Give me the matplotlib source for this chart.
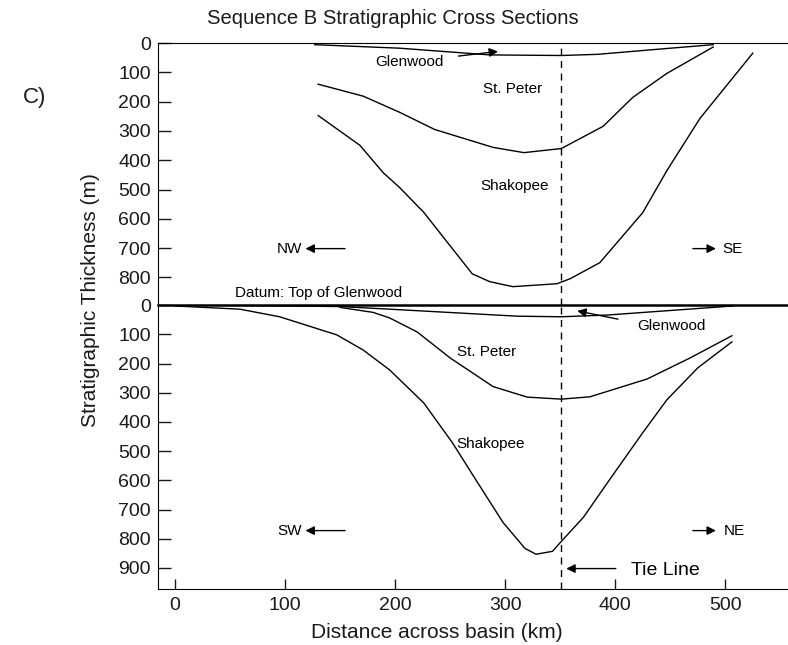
import matplotlib
matplotlib.use('Agg')
import matplotlib.pyplot as plt

plt.rcParams['font.family'] = ['Liberation Sans', 'DejaVu Sans']

# upper section (NW - SE), thickness below top of Glenwood (m)
nw_glen_x = [127, 204, 286, 351, 384, 447, 489]
nw_glen_y = [5, 17, 40, 42, 38, 18, 5]
nw_stp_x = [130, 171, 204, 236, 289, 317, 351, 389, 416, 447, 468, 489]
nw_stp_y = [140, 181, 236, 295, 356, 374, 360, 284, 185, 103, 58, 13]
nw_shak_x = [130, 168, 189, 204, 226, 270, 286, 307, 347, 359, 386, 425, 447, 477, 525]
nw_shak_y = [247, 349, 442, 493, 578, 788, 815, 832, 822, 805, 750, 579, 435, 257, 34]

# lower section (SW - NE)
sw_glen_x = [20, 150, 195, 311, 351, 393, 507]
sw_glen_y = [0, 5, 14, 38, 40, 34, 3]
sw_stp_x = [150, 180, 195, 220, 250, 289, 320, 351, 377, 429, 468, 506]
sw_stp_y = [8, 25, 44, 92, 181, 279, 315, 322, 314, 253, 181, 105]
sw_shak_x = [0, 59, 95, 147, 171, 195, 226, 252, 275, 298, 318, 328, 343, 351, 371, 395, 425, 447, 475, 506]
sw_shak_y = [3, 14, 40, 102, 154, 222, 335, 471, 608, 744, 833, 853, 843, 809, 727, 597, 437, 324, 215, 126]

tie_x = 351
top_ticks = [0, 100, 200, 300, 400, 500, 600, 700, 800]
bot_ticks = [0, 100, 200, 300, 400, 500, 600, 700, 800, 900]
x_ticks = [0, 100, 200, 300, 400, 500]

ink = '#1a1a1a'
fig = plt.figure(figsize=(7.88, 6.45), dpi=100)
ax1 = fig.add_axes([0.2005, 0.527, 0.7995, 0.406])
ax2 = fig.add_axes([0.2005, 0.0868, 0.7995, 0.4402])

lw = 1.0
for ax in (ax1, ax2):
    ax.set_xlim(-15.5, 557)
    ax.tick_params(direction='in', length=9, width=1, labelsize=14, colors=ink, pad=5)
    ax.spines['right'].set_visible(False)
    ax.axvline(tie_x, color='black', lw=1.0, ls=(0, (5, 4)))

ax1.plot(nw_glen_x, nw_glen_y, color='black', lw=lw)
ax1.plot(nw_stp_x, nw_stp_y, color='black', lw=lw)
ax1.plot(nw_shak_x, nw_shak_y, color='black', lw=lw)
ax1.set_ylim(895, 0)
ax1.set_yticks(top_ticks)
ax1.set_xticks([])
ax1.spines['bottom'].set_visible(False)

ax2.plot(sw_glen_x, sw_glen_y, color='black', lw=lw)
ax2.plot(sw_stp_x, sw_stp_y, color='black', lw=lw)
ax2.plot(sw_shak_x, sw_shak_y, color='black', lw=lw)
ax2.set_ylim(972, 0)
ax2.set_yticks(bot_ticks)
ax2.set_xticks(x_ticks)
ax2.tick_params(axis='x', length=7, pad=6)
ax2.spines['top'].set_linewidth(1.8)

arr = dict(arrowstyle='-|>', color='black', lw=1.0, mutation_scale=13)
fs = 11

# upper panel labels
ax1.annotate('', xy=(296, 27), xytext=(255, 45), arrowprops=arr)
ax1.text(213, 65, 'Glenwood', fontsize=fs, ha='center', va='center')
ax1.text(307, 155, 'St. Peter', fontsize=fs, ha='center', va='center')
ax1.text(309, 488, 'Shakopee', fontsize=fs, ha='center', va='center')
ax1.text(104, 702, 'NW', fontsize=fs, ha='center', va='center')
ax1.annotate('', xy=(116, 702), xytext=(157, 702), arrowprops=arr)
ax1.annotate('', xy=(494, 702), xytext=(468, 702), arrowprops=arr)
ax1.text(497, 702, 'SE', fontsize=fs, ha='left', va='center')
ax1.text(130, 855, 'Datum: Top of Glenwood', fontsize=fs, ha='center', va='center')

# lower panel labels
ax2.annotate('', xy=(363, 18), xytext=(405, 50), arrowprops=arr)
ax2.text(451, 70, 'Glenwood', fontsize=fs, ha='center', va='center')
ax2.text(283, 160, 'St. Peter', fontsize=fs, ha='center', va='center')
ax2.text(287, 476, 'Shakopee', fontsize=fs, ha='center', va='center')
ax2.text(104, 772, 'SW', fontsize=fs, ha='center', va='center')
ax2.annotate('', xy=(116, 772), xytext=(157, 772), arrowprops=arr)
ax2.annotate('', xy=(494, 772), xytext=(468, 772), arrowprops=arr)
ax2.text(499, 772, 'NE', fontsize=fs, ha='left', va='center')
ax2.annotate('', xy=(353, 902), xytext=(403, 902), arrowprops=arr)
ax2.text(414, 908, 'Tie Line', fontsize=14, ha='left', va='center')

fig.text(393 / 788, 1 - 18 / 645, 'Sequence B Stratigraphic Cross Sections',
         fontsize=14.6, ha='center', va='center', color=ink)
fig.text(35 / 788, 1 - 97 / 645, 'C)', fontsize=16, ha='center', va='center', color=ink)
fig.text(90 / 788, 1 - 300 / 645, 'Stratigraphic Thickness (m)', fontsize=15,
         rotation=90, ha='center', va='center', color=ink)
fig.text(437 / 788, 1 - 632 / 645, 'Distance across basin (km)', fontsize=15,
         ha='center', va='center', color=ink)

fig.savefig('out.png', dpi=100)
